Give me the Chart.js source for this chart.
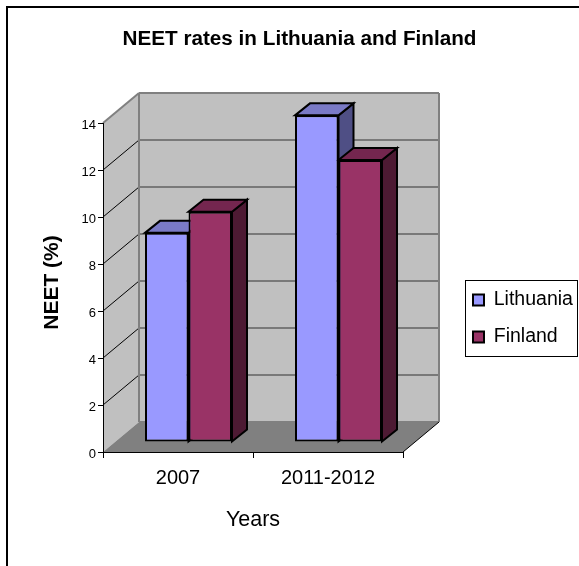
<!DOCTYPE html>
<html>
<head>
<meta charset="utf-8">
<title>NEET rates in Lithuania and Finland</title>
<script src="https://cdn.jsdelivr.net/npm/chart.js@4"></script>
<style>
    html, body { margin: 0; padding: 0; background: #fff; overflow: hidden; }
    canvas { display: block; }
</style>
</head>
<body>
<canvas id="neetChart" width="579" height="566"></canvas>
<script>
const categories = ['2007', '2011-2012'];
const lithuania = [8.9, 13.9];
const finland = [9.8, 12];
const yTicks = [0, 2, 4, 6, 8, 10, 12, 14];

// Fake 3D settings, in pixels
const WALL_DX = 36, WALL_DY = -30;   // depth of the floor
const BAR_DX = 10.5, BAR_DY = -10;   // how far the bars sit behind the axis plane
const FACE_DX = 15, FACE_DY = -12;   // depth of one bar

const faces = [
    { top: '#7a7ac6', side: '#4f4f85' },
    { top: '#74264f', side: '#4d1a33' }
];

function poly(ctx, pts, fill, stroke, width) {
    ctx.beginPath();
    pts.forEach((p, i) => i ? ctx.lineTo(p[0], p[1]) : ctx.moveTo(p[0], p[1]));
    ctx.closePath();
    if (fill) { ctx.fillStyle = fill; ctx.fill(); }
    if (stroke) { ctx.strokeStyle = stroke; ctx.lineWidth = width; ctx.stroke(); }
}

function line(ctx, x1, y1, x2, y2, color, width) {
    ctx.beginPath();
    ctx.moveTo(x1, y1);
    ctx.lineTo(x2, y2);
    ctx.strokeStyle = color;
    ctx.lineWidth = width;
    ctx.stroke();
}

const box3d = {
    id: 'box3d',
    beforeDraw(chart) {
        const ctx = chart.ctx;
        ctx.save();
        ctx.fillStyle = '#fff';
        ctx.fillRect(0, 0, chart.width, chart.height);
        // outer frame, only top and left show up
        ctx.fillStyle = '#000';
        ctx.fillRect(6, 6, chart.width - 6, 2);
        ctx.fillRect(6, 6, 2, chart.height - 6);
        ctx.restore();
    },
    afterLayout(chart) {
        // title sits a little right of centre, legend goes right of the plot
        chart.titleBlock.left = 20;
        chart.titleBlock.right = chart.width;
        const lg = chart.legend;
        lg.left = 455.5;
        lg.right = 579;
        lg.top = 272.75;
        lg.bottom = 420;

        // y title is centred a bit above the axis middle
        const yScale = chart.scales.y;
        if (!yScale.titleShifted) {
            const drawTitle = yScale.drawTitle;
            yScale.drawTitle = function () {
                chart.ctx.save();
                chart.ctx.translate(0, -5);
                drawTitle.call(yScale);
                chart.ctx.restore();
            };
            yScale.titleShifted = true;
        }
    },
    beforeDatasetsDraw(chart) {
        const ctx = chart.ctx;
        const { left, right, top, bottom } = chart.chartArea;
        const y = chart.scales.y;
        ctx.save();
        ctx.lineJoin = 'round';

        // back wall, left wall and floor
        poly(ctx, [[left + WALL_DX, top + WALL_DY], [right + WALL_DX, top + WALL_DY],
                   [right + WALL_DX, bottom + WALL_DY], [left + WALL_DX, bottom + WALL_DY]], '#c0c0c0');
        poly(ctx, [[left, top], [left + WALL_DX, top + WALL_DY],
                   [left + WALL_DX, bottom + WALL_DY], [left, bottom]], '#c0c0c0');
        poly(ctx, [[left, bottom], [right, bottom],
                   [right + WALL_DX, bottom + WALL_DY], [left + WALL_DX, bottom + WALL_DY]], '#808080');

        // gridlines bend at the corner of the walls
        yTicks.slice(1, -1).forEach(v => {
            const py = y.getPixelForValue(v);
            line(ctx, left, py, left + WALL_DX, py + WALL_DY, '#000', 1);
            line(ctx, left + WALL_DX, py + WALL_DY, right + WALL_DX, py + WALL_DY, '#333', 1);
        });

        // wall outlines
        line(ctx, left, top, left + WALL_DX, top + WALL_DY, '#808080', 2);
        line(ctx, left + WALL_DX, top + WALL_DY, right + WALL_DX, top + WALL_DY, '#808080', 2);
        line(ctx, left + WALL_DX, top + WALL_DY, left + WALL_DX, bottom + WALL_DY, '#808080', 2);
        line(ctx, right + WALL_DX, top + WALL_DY, right + WALL_DX, bottom + WALL_DY, '#808080', 2);
        line(ctx, left + WALL_DX, bottom + WALL_DY, right + WALL_DX, bottom + WALL_DY, '#808080', 2);
        line(ctx, right, bottom, right + WALL_DX, bottom + WALL_DY, '#000', 1);

        // everything for the bars is shifted back into the room
        ctx.translate(BAR_DX, BAR_DY);
        ctx.lineJoin = 'miter';
        chart.data.datasets.forEach((ds, i) => {
            chart.getDatasetMeta(i).data.forEach(bar => {
                const x1 = bar.x - bar.width / 2, x2 = bar.x + bar.width / 2;
                poly(ctx, [[x2, bar.y], [x2 + FACE_DX, bar.y + FACE_DY],
                           [x2 + FACE_DX, bar.base + FACE_DY], [x2, bar.base]], faces[i].side, '#000', 2);
                poly(ctx, [[x1, bar.y], [x1 + FACE_DX, bar.y + FACE_DY],
                           [x2 + FACE_DX, bar.y + FACE_DY], [x2, bar.y]], faces[i].top, '#000', 2);
            });
        });
        // restored in afterDatasetsDraw so the front faces get the same shift
    },
    afterDatasetsDraw(chart) {
        chart.ctx.restore();
    },
    afterDraw(chart) {
        const ctx = chart.ctx;
        ctx.save();
        ctx.strokeStyle = '#000';
        ctx.lineWidth = 1;
        ctx.strokeRect(465.5, 280.5, 112, 76);
        ctx.restore();
    }
};

new Chart(document.getElementById('neetChart'), {
    type: 'bar',
    data: {
        labels: categories,
        datasets: [
            { label: 'Lithuania', data: lithuania, backgroundColor: '#9999ff', borderColor: '#000', borderWidth: 2, borderSkipped: false, clip: false },
            { label: 'Finland', data: finland, backgroundColor: '#993366', borderColor: '#000', borderWidth: 2, borderSkipped: false, clip: false }
        ]
    },
    plugins: [box3d],
    options: {
        responsive: false,
        animation: false,
        layout: { padding: { left: 40, right: 176, top: 0, bottom: 33 } },
        categoryPercentage: 0.58,
        barPercentage: 1,
        scales: {
            x: {
                afterFit(scale) { scale.height = 81; },
                border: { color: '#000', width: 1, z: 1 },
                grid: { drawOnChartArea: false, tickColor: '#000', tickLength: 6, z: 1 },
                ticks: { color: '#000', padding: 8, maxRotation: 0, font: { family: 'Liberation Sans', size: 20 } },
                title: {
                    display: true, text: 'Years', color: '#000', padding: { top: 0, bottom: 0 },
                    font: { family: 'Liberation Sans', size: 21.5 }
                }
            },
            y: {
                min: 0,
                max: 14,
                afterBuildTicks(scale) { scale.ticks = yTicks.map(v => ({ value: v })); },
                afterFit(scale) { scale.width = 63; },
                border: { color: '#000', width: 1, z: 1 },
                grid: { drawOnChartArea: false, tickColor: '#000', tickLength: 5, z: 1 },
                ticks: { color: '#000', padding: 2, labelOffset: 2, font: { family: 'Liberation Sans', size: 13 } },
                title: {
                    display: true, text: 'NEET (%)', color: '#000', padding: { top: 0, bottom: 0 },
                    font: { family: 'Liberation Sans', size: 21, weight: 'bold' }
                }
            }
        },
        plugins: {
            title: {
                display: true,
                text: 'NEET rates in Lithuania and Finland',
                color: '#000',
                padding: { top: 28.6, bottom: 73.7 },
                font: { family: 'Liberation Sans', size: 20.7, weight: 'bold', lineHeight: 1.0 }
            },
            legend: {
                position: 'chartArea',
                align: 'start',
                labels: {
                    color: '#000',
                    boxWidth: 11,
                    boxHeight: 11,
                    padding: 17.5,
                    font: { family: 'Liberation Sans', size: 19.5 }
                }
            },
            tooltip: { enabled: false }
        }
    }
});
</script>
</body>
</html>
